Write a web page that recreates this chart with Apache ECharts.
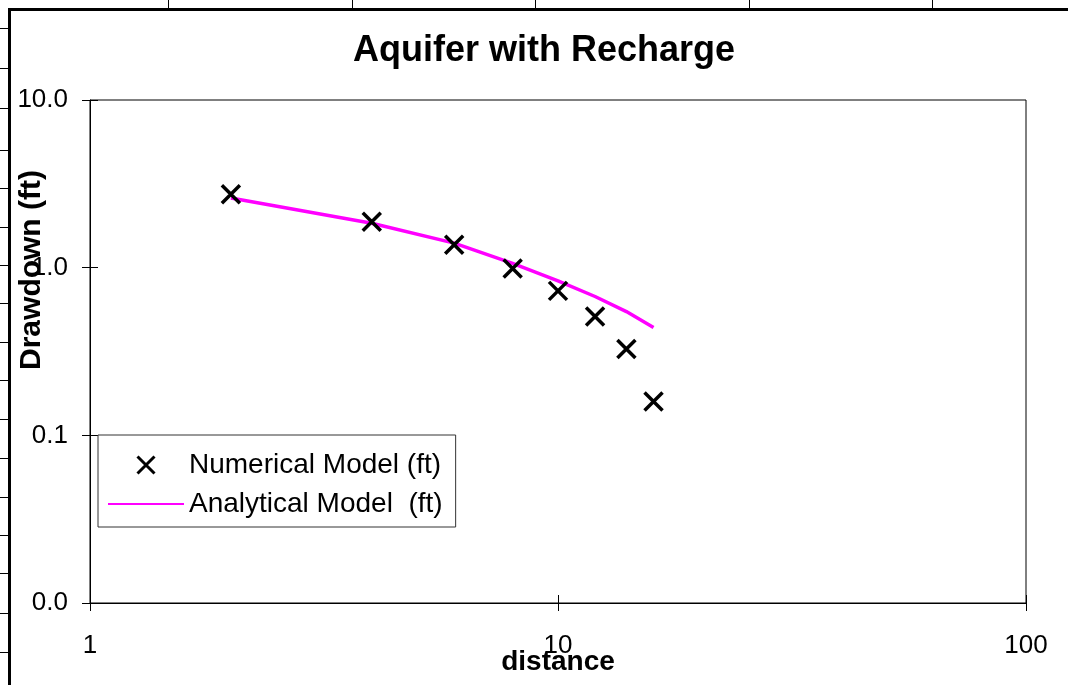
<!DOCTYPE html>
<html>
<head>
<meta charset="utf-8">
<script src="https://cdn.jsdelivr.net/npm/echarts@6/dist/echarts.min.js"></script>
<style>
html,body{margin:0;padding:0;background:#fff;}
#chart{width:1068px;height:685px;}
</style>
</head>
<body>
<div id="chart"></div>
<script>
const distance = [2, 4, 6, 8, 10, 12, 14, 16];
const numericalModel = [2.74, 1.88, 1.37, 0.99, 0.727, 0.511, 0.327, 0.159];
const analyticalModel = [2.60, 1.84, 1.40, 1.06, 0.834, 0.673, 0.547, 0.44];
const seriesNames = ['Numerical Model (ft)', 'Analytical Model  (ft)'];
const titleText = 'Aquifer with Recharge';
const xTitle = 'distance';
const yTitle = 'Drawdown (ft)';

const FONT = 'Liberation Sans, Arial, Helvetica, sans-serif';
const chart = echarts.init(document.getElementById('chart'), null, {renderer: 'canvas'});

const deco = [];
deco.push({type: 'rect', shape: {x: 9.5, y: 9.5, width: 1200, height: 800},
  style: {fill: 'none', stroke: '#000', lineWidth: 3}, silent: true, z: 0});
[168, 352, 535, 749, 932].forEach(function (x) {
  deco.push({type: 'line', shape: {x1: x + 0.5, y1: 0, x2: x + 0.5, y2: 8},
    style: {stroke: '#000', lineWidth: 1}, silent: true});
});
[28, 68, 108, 150, 188, 227, 265, 303, 342, 380, 419, 458, 497, 535, 573, 613, 652].forEach(function (y) {
  deco.push({type: 'line', shape: {x1: 0, y1: y + 0.5, x2: 8, y2: y + 0.5},
    style: {stroke: '#000', lineWidth: 1}, silent: true});
});
deco.push({type: 'text', x: 32, y: 270, rotation: Math.PI / 2,
  style: {text: yTitle, font: 'bold 30px ' + FONT, fill: '#000', textAlign: 'center', textVerticalAlign: 'middle'}, z: 10});

const option = {
  backgroundColor: '#fff',
  animation: false,
  title: {
    text: titleText, left: 544, top: 33, textAlign: 'center', padding: 0,
    textStyle: {fontFamily: FONT, fontWeight: 'bold', fontSize: 36, color: '#000'}
  },
  grid: {left: 90, right: 42, top: 100, bottom: 82, show: true, borderColor: '#000', borderWidth: 1,
    backgroundColor: '#fff', containLabel: false, outerBoundsMode: 'none'},
  legend: {
    orient: 'vertical', left: 98, top: 435,
    data: [
      {name: seriesNames[0], itemStyle: {color: 'rgba(0,0,0,0)', borderColor: '#000', borderWidth: 3}},
      {name: seriesNames[1], itemStyle: {color: 'rgba(0,0,0,0)', borderWidth: 0, opacity: 0}}
    ],
    itemWidth: 76, itemHeight: 17, itemGap: 11,
    padding: [16, 13, 9, 9],
    borderColor: '#333', borderWidth: 1, backgroundColor: '#fff',
    textStyle: {fontFamily: FONT, fontSize: 28, color: '#000'}
  },
  xAxis: [{
    type: 'log', logBase: 10, min: 1, max: 100,
    name: xTitle, nameLocation: 'middle', nameGap: 45, nameMoveOverlap: false,
    nameTextStyle: {fontFamily: FONT, fontWeight: 'bold', fontSize: 28, color: '#000'},
    axisLine: {show: true, lineStyle: {color: '#000', width: 1}},
    axisTick: {show: true, inside: false, length: 8, lineStyle: {color: '#000'}},
    minorTick: {show: false},
    splitLine: {show: false},
    axisLabel: {fontFamily: FONT, fontSize: 26, color: '#000', margin: 30,
      formatter: function (v) { return String(Math.round(v)); }}
  }, {
    type: 'log', logBase: 10, min: 1, max: 100, position: 'bottom',
    axisLine: {show: false}, axisLabel: {show: false}, splitLine: {show: false},
    axisTick: {show: true, inside: true, length: 8, lineStyle: {color: '#000'}}
  }],
  yAxis: [{
    type: 'log', logBase: 10, min: 0.01, max: 10,
    axisLine: {show: true, lineStyle: {color: '#000', width: 1}},
    axisTick: {show: true, inside: false, length: 8, lineStyle: {color: '#000'}},
    splitLine: {show: false},
    axisLabel: {fontFamily: FONT, fontSize: 26, color: '#000', margin: 22,
      formatter: function (v) { return v.toFixed(1); }}
  }, {
    type: 'log', logBase: 10, min: 0.01, max: 10, position: 'left',
    axisLine: {show: false}, axisLabel: {show: false}, splitLine: {show: false},
    axisTick: {show: true, inside: true, length: 8, lineStyle: {color: '#000'}}
  }],
  series: [{
    name: seriesNames[0], type: 'scatter',
    data: distance.map(function (d, i) { return [d, numericalModel[i]]; }),
    symbol: 'path://M0,0L20,20M20,0L0,20', symbolSize: 18, symbolKeepAspect: true,
    itemStyle: {color: 'rgba(0,0,0,0)', borderColor: '#000', borderWidth: 3.5, opacity: 1},
    z: 5
  }, {
    name: seriesNames[1], type: 'line',
    data: distance.map(function (d, i) { return [d, analyticalModel[i]]; }),
    symbol: 'none', showSymbol: false,
    lineStyle: {color: '#FF00FF', width: 3.5},
    itemStyle: {color: '#FF00FF'},
    z: 4
  }],
  graphic: deco
};
chart.setOption(option);
</script>
</body>
</html>
